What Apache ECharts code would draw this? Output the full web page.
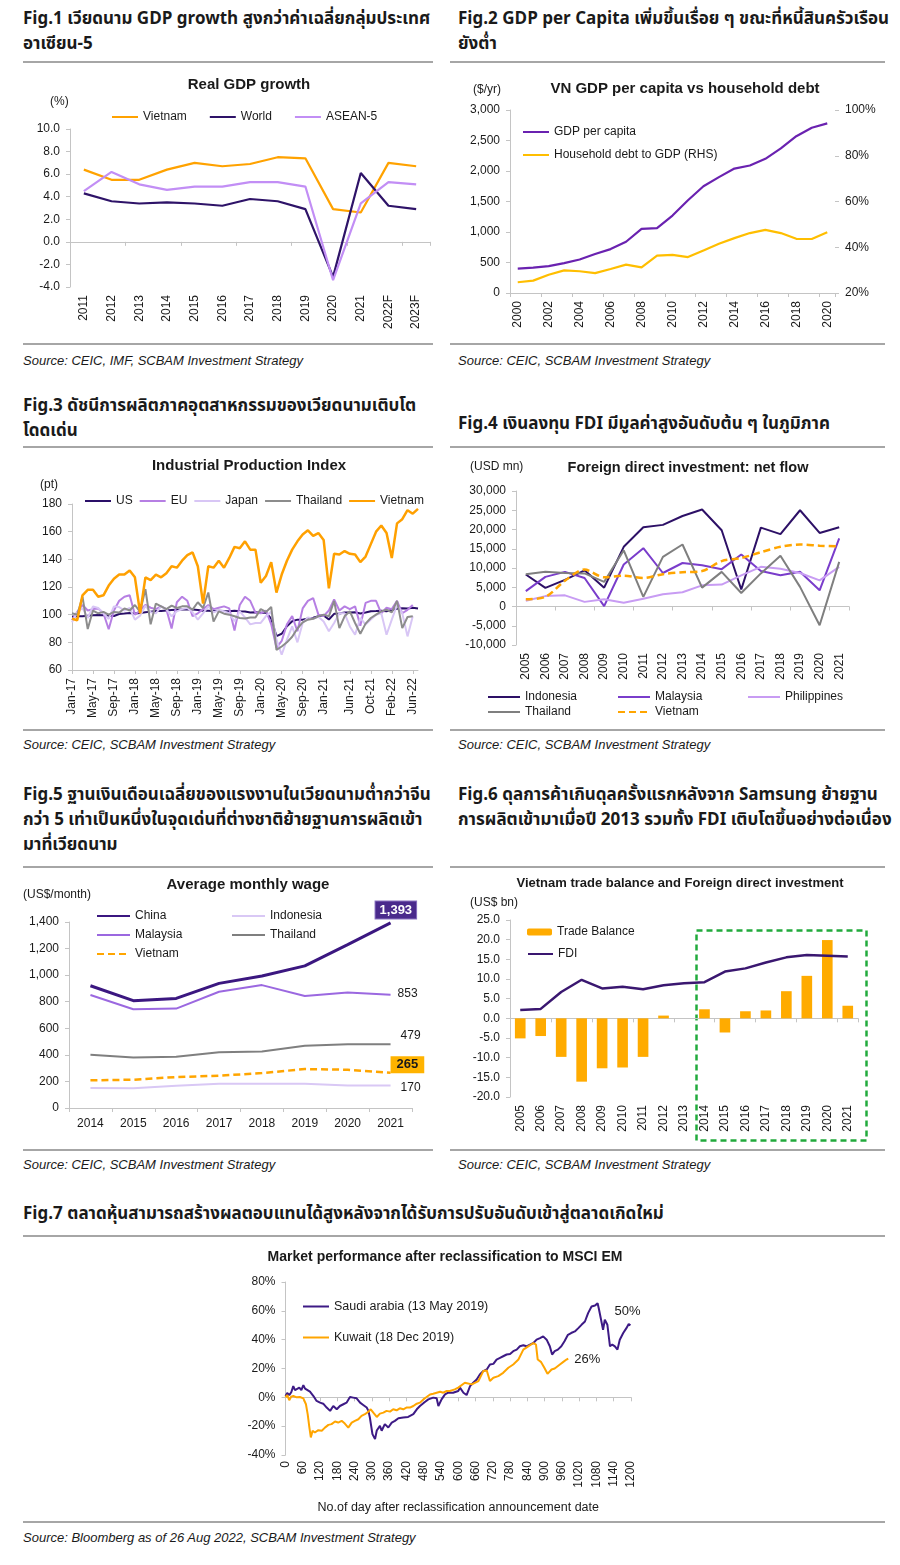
<!DOCTYPE html>
<html><head><meta charset="utf-8">
<script src="https://cdn.jsdelivr.net/npm/echarts@6/dist/echarts.min.js"></script>
<style>
body{margin:0;width:900px;height:1565px;background:#fff;position:relative;overflow:hidden;font-family:'Liberation Sans',Arial,sans-serif}
.h{position:absolute;font-weight:bold;font-size:17px;line-height:25px;color:#1a1a1a;white-space:nowrap;font-family:'Noto Sans Thai','Noto Sans','Liberation Sans',sans-serif}
.sep{position:absolute;height:0;border-top:2px solid #a6a6a6}
.src{position:absolute;font-style:italic;font-size:13px;line-height:16px;color:#1a1a1a;white-space:nowrap}
.c{position:absolute}
</style></head><body>
<div class="h" style="left:23px;top:7px">Fig.1 เวียดนาม GDP growth สูงกว่าค่าเฉลี่ยกลุ่มประเทศ<br>อาเซียน-5</div>
<div class="h" style="left:458px;top:7px">Fig.2 GDP per Capita เพิ่มขึ้นเรื่อย ๆ ขณะที่หนี้สินครัวเรือน<br>ยังต่ำ</div>
<div class="sep" style="left:23px;top:61px;width:410px"></div>
<div class="sep" style="left:450px;top:61px;width:435px"></div>
<div class="c" id="f1" style="left:0;top:65px;width:450px;height:275px"></div>
<div class="c" id="f2" style="left:450px;top:65px;width:450px;height:275px"></div>
<div class="sep" style="left:23px;top:343px;width:410px"></div>
<div class="sep" style="left:450px;top:343px;width:435px"></div>
<div class="src" style="left:23px;top:353px">Source: CEIC, IMF, SCBAM Investment Strategy</div>
<div class="src" style="left:458px;top:353px">Source: CEIC, SCBAM Investment Strategy</div>

<div class="h" style="left:23px;top:394px">Fig.3 ดัชนีการผลิตภาคอุตสาหกรรมของเวียดนามเติบโต<br>โดดเด่น</div>
<div class="h" style="left:458px;top:412px">Fig.4 เงินลงทุน FDI มีมูลค่าสูงอันดับต้น ๆ ในภูมิภาค</div>
<div class="sep" style="left:23px;top:446px;width:410px"></div>
<div class="sep" style="left:450px;top:446px;width:435px"></div>
<div class="c" id="f3" style="left:0;top:447px;width:450px;height:282px"></div>
<div class="c" id="f4" style="left:450px;top:447px;width:450px;height:282px"></div>
<div class="sep" style="left:23px;top:729px;width:410px"></div>
<div class="sep" style="left:450px;top:729px;width:435px"></div>
<div class="src" style="left:23px;top:737px">Source: CEIC, SCBAM Investment Strategy</div>
<div class="src" style="left:458px;top:737px">Source: CEIC, SCBAM Investment Strategy</div>

<div class="h" style="left:23px;top:783px">Fig.5 ฐานเงินเดือนเฉลี่ยของแรงงานในเวียดนามต่ำกว่าจีน<br>กว่า 5 เท่าเป็นหนึ่งในจุดเด่นที่ต่างชาติย้ายฐานการผลิตเข้า<br>มาที่เวียดนาม</div>
<div class="h" style="left:458px;top:783px">Fig.6 ดุลการค้าเกินดุลครั้งแรกหลังจาก Samsung ย้ายฐาน<br>การผลิตเข้ามาเมื่อปี 2013 รวมทั้ง FDI เติบโตขึ้นอย่างต่อเนื่อง</div>
<div class="sep" style="left:23px;top:866px;width:410px"></div>
<div class="sep" style="left:450px;top:866px;width:435px"></div>
<div class="c" id="f5" style="left:0;top:868px;width:450px;height:280px"></div>
<div class="c" id="f6" style="left:450px;top:868px;width:450px;height:280px"></div>
<div class="sep" style="left:23px;top:1149px;width:410px"></div>
<div class="sep" style="left:450px;top:1149px;width:435px"></div>
<div class="src" style="left:23px;top:1157px">Source: CEIC, SCBAM Investment Strategy</div>
<div class="src" style="left:458px;top:1157px">Source: CEIC, SCBAM Investment Strategy</div>

<div class="h" style="left:23px;top:1202px">Fig.7 ตลาดหุ้นสามารถสร้างผลตอบแทนได้สูงหลังจากได้รับการปรับอันดับเข้าสู่ตลาดเกิดใหม่</div>
<div class="sep" style="left:23px;top:1235px;width:862px"></div>
<div class="c" id="f7" style="left:0;top:1237px;width:900px;height:282px"></div>
<div class="sep" style="left:23px;top:1521px;width:862px"></div>
<div class="src" style="left:23px;top:1530px">Source: Bloomberg as of 26 Aug 2022, SCBAM Investment Strategy</div>

<script>
// ---------- DATA ----------
const fig1Years = ['2011','2012','2013','2014','2015','2016','2017','2018','2019','2020','2021','2022F','2023F'];
const fig1Vietnam = [6.4,5.5,5.5,6.4,7.0,6.7,6.9,7.5,7.4,2.9,2.6,7.0,6.7];
const fig1World = [4.3,3.6,3.4,3.5,3.4,3.2,3.8,3.6,2.9,-3.1,6.1,3.2,2.9];
const fig1Asean = [4.5,6.2,5.1,4.6,4.9,4.9,5.3,5.3,4.9,-3.4,3.4,5.3,5.1];

const fig2Years = ['2000','2001','2002','2003','2004','2005','2006','2007','2008','2009','2010','2011','2012','2013','2014','2015','2016','2017','2018','2019','2020'];
const fig2GdpPerCapita = [400,415,440,490,550,640,720,840,1050,1065,1270,1520,1750,1900,2040,2090,2200,2370,2570,2710,2780];
const fig2HouseholdDebt = [24.7,25.4,28,29.9,29.5,28.7,30.5,32.4,31.2,36.3,36.7,35.7,38.6,41.5,44,46.2,47.6,46.2,43.7,43.6,46.6];

const fig3Months = [
 'Jan-17','Feb-17','Mar-17','Apr-17','May-17','Jun-17','Jul-17','Aug-17','Sep-17','Oct-17','Nov-17','Dec-17',
 'Jan-18','Feb-18','Mar-18','Apr-18','May-18','Jun-18','Jul-18','Aug-18','Sep-18','Oct-18','Nov-18','Dec-18',
 'Jan-19','Feb-19','Mar-19','Apr-19','May-19','Jun-19','Jul-19','Aug-19','Sep-19','Oct-19','Nov-19','Dec-19',
 'Jan-20','Feb-20','Mar-20','Apr-20','May-20','Jun-20','Jul-20','Aug-20','Sep-20','Oct-20','Nov-20','Dec-20',
 'Jan-21','Feb-21','Mar-21','Apr-21','May-21','Jun-21','Jul-21','Aug-21','Sep-21','Oct-21','Nov-21','Dec-21',
 'Jan-22','Feb-22','Mar-22','Apr-22','May-22','Jun-22','Jul-22'];
const fig3Ticks = ['Jan-17','May-17','Sep-17','Jan-18','May-18','Sep-18','Jan-19','May-19','Sep-19','Jan-20','May-20','Sep-20','Jan-21','Jun-21','Oct-21','Feb-22','Jun-22'];
const fig3US = [98.5,98.8,98.8,99.2,99.5,99.8,99.6,99.2,99.0,100.5,100.8,101.2, 100.9,101.2,101.8,102.2,102.6,102.7,103.0,103.3,103.6,103.7,103.7,103.8, 103.3,102.8,102.8,102.6,102.8,102.6,102.5,102.8,102.5,102.3,101.6,101.8, 101.4,101.5,97.1,84.5,86.2,91.6,95.3,96.4,96.4,97.3,97.8,98.8, 99.5,96.5,100.6,100.9,101.5,101.6,101.8,100.8,101.5,102.5,102.6,102.8, 102.5,103.3,104.3,104.6,104.5,105.0,104.5];
const fig3EU = [96,102,107,103,104,104.5,101,89.5,103,110,113,114, 100,103,107,105,104,106,104,90,109,113,110,99, 101,104,107,104,105,106,104.5,88.5,107,113,110,101.5, 101,103,93,76,81,93,99,88,104.5,110,112,100, 99,103,111,103,106,104,106,92,108.5,110,110,101, 105,104,110,101,103.5,107,null];
const fig3Japan = [94.4,101.7,104.8,97.6,106,104.8,101,96.9,106,105.5,103,104.8, 96.4,99.3,106.5,101.7,101,106,104,98.8,102.4,104,104.8,101.7, 96.4,101,106,101.7,103,102.4,101,95.2,102.4,98,93,94, 94,99,102,82,71,82,91.5,80,94,98,97,98.5, 95,88,94,101,101,91.5,85.5,97.6,92.8,96.4,100,101, 85.5,96.4,107,101,84.3,98.8,null];
const fig3Thailand = [101,100,113,89.6,103,101,102,100,102,101.5,104.5,103, 107,102,118.5,93,108,106,104,106.5,104.8,106,106,103.6, 109,104.8,116,95,102.4,100.7,100,98.8,97.6,97.2,98,98, 104,102,105.6,74.6,77,80,84,90,94.4,96.4,97,98.8, 100,98.8,110,90.3,98.8,102.4,94,86.2,93.5,97.6,100,102.4, 103.6,101.7,110,90.3,98.3,98.8,null];
const fig3Vietnam = [97,96,114,118,118,113,114,121,126,129,129,132, 127,101,127,125,129,127,130,135,134,139,143,145, 135,108,135,134,139,134,141,149,148,153,147,147, 123,128,138,116,129,139,147,153,158,161,157,159, 154,119,144,143.5,146,144,143.5,138,142,151,160,164.5, 159,141,166,169,175.5,173,176.5];

const fig4Years = ['2005','2006','2007','2008','2009','2010','2011','2012','2013','2014','2015','2016','2017','2018','2019','2020','2021'];
const fig4Indonesia = [8300,4850,6900,9400,4900,15500,20600,21200,23500,25200,19800,4400,20500,18800,25000,19100,20600];
const fig4Malaysia = [4000,7700,9000,7400,100,10900,15150,8700,11300,10700,9700,13500,9200,8100,9000,4200,17700];
const fig4Philippines = [1500,2700,2900,1200,1900,1000,2000,3200,3700,5500,5700,8100,10300,9800,8700,6800,10300];
const fig4Thailand = [8400,9000,8700,8600,6400,14600,2500,12900,16100,4900,9000,3500,8600,13200,5100,-4850,11600];
const fig4Vietnam = [1900,2500,6700,9600,7600,8000,7400,8400,8900,9200,11800,12600,14100,15500,16100,15800,15600];

const fig5Years = ['2014','2015','2016','2017','2018','2019','2020','2021'];
const fig5China = [920,808,825,938,993,1070,1230,1393];
const fig5Malaysia = [850,743,748,875,925,843,870,853];
const fig5Thailand = [400,380,385,420,425,468,480,479];
const fig5Vietnam = [208,213,233,243,263,293,288,265];
const fig5Indonesia = [150,148,168,183,183,183,170,170];
const fig5EndLabels = {China:'1,393', Malaysia:'853', Thailand:'479', Vietnam:'265', Indonesia:'170'};

const fig6Years = ['2005','2006','2007','2008','2009','2010','2011','2012','2013','2014','2015','2016','2017','2018','2019','2020','2021'];
const fig6TradeBalance = [-5.1,-4.5,-9.8,-16.1,-12.7,-12.5,-9.8,0.7,0,2.3,-3.6,1.8,2.0,6.9,10.8,19.9,3.2];
const fig6FDI = [2.1,2.4,6.7,9.8,7.6,8.0,7.4,8.4,8.9,9.2,11.9,12.7,14.2,15.5,16.1,15.9,15.7];

const fig7Saudi = [[0,1],[6,3],[13,1.5],[20,3.5],[27,7.8],[33,5],[39,5.5],[48,6.7],[55,5],[62,8.5],[68,6],[73,4.8],[85,3.9],[97,0.9],[108,-2.5],[120,-3.7],[131,-4.4],[143,-7.1],[155,-9.4],[166,-6],[178,-8.3],[189,-6],[201,-4.8],[212,-3.7],[224,0.2],[235,-0.2],[247,-0.7],[259,-3.7],[270,-5.3],[282,-7.1],[288,-9.4],[293,-14],[302,-25.5],[311,-29],[317,-23],[328,-19.8],[334,-23.2],[345,-18.6],[357,-20.9],[369,-17.5],[380,-16.3],[392,-14.5],[409,-14],[426,-13.6],[444,-11.7],[456,-8.3],[467,-6],[484,-3.2],[496,-1.4],[513,-0.2],[525,-0.7],[531,-6],[542,-1.4],[554,2],[565,3.2],[582,3.2],[600,4.4],[606,6.7],[618,3.2],[629,1.6],[641,7.8],[652,10.1],[664,12.4],[675,15.9],[687,18.2],[699,19.3],[710,22.8],[722,23.2],[733,26.2],[745,27.4],[756,28.5],[768,29.7],[780,30.1],[791,32],[803,33.1],[814,35.4],[826,36.1],[837,35.4],[849,36.6],[861,37.7],[872,40],[884,41.1],[895,42.3],[907,40],[918,35.4],[926,29.7],[935,32],[946,33.1],[958,35.4],[969,38.9],[981,43.4],[992,44.6],[1005,45.7],[1017,48],[1028,50.3],[1040,52.6],[1051,58.4],[1063,63],[1075,63.7],[1084,65.3],[1088,61.8],[1095,54.9],[1103,46.9],[1109,53.8],[1118,50.3],[1127,35.4],[1135,36.6],[1144,35.4],[1153,33.1],[1161,40],[1173,44.6],[1184,48],[1192,50.8],[1198,49.9]];
const fig7Kuwait = [[0,0],[6,1.6],[13,-2],[20,0.5],[27,0.9],[39,0],[50,0.2],[62,-0.7],[71,-4.8],[77,-11.7],[83,-21],[88,-27.8],[94,-23.2],[102,-24.4],[114,-22.8],[126,-23.2],[137,-21],[149,-19.1],[160,-18.6],[172,-16.8],[183,-17.5],[195,-16.3],[206,-18.2],[218,-21],[230,-17.5],[241,-16.3],[253,-15.2],[264,-12.9],[276,-11.7],[288,-9.9],[296,-8.3],[305,-10.6],[317,-13.6],[328,-11.3],[340,-10.6],[351,-9.4],[363,-9.9],[374,-8.3],[386,-9],[397,-7.6],[409,-8.3],[420,-7.1],[432,-7.1],[444,-6],[456,-4.4],[467,-3.7],[479,-1.4],[490,0.2],[502,2],[513,2.5],[525,3.2],[537,3.9],[548,3.2],[560,4.4],[571,4.4],[588,5.5],[600,6.7],[606,6.7],[623,10.1],[647,9],[670,11.3],[687,18.2],[699,18.6],[710,11.3],[722,13.6],[739,14.7],[756,17],[774,20.5],[791,22.8],[809,26.2],[826,33.1],[843,35.4],[861,37.7],[870,36.6],[876,26.2],[887,24.6],[899,20.5],[910,16.3],[924,19.3],[935,20],[953,22.8],[965,24.6],[976,26.2],[982,26.9]];
const fig7EndLabels = ['50%','26%'];

// ---------- HELPERS ----------
const FONT = "'Liberation Sans', Arial, sans-serif";
const TXT = '#1a1a1a';
const AX = '#c4c4c4';
const comma = v => v.toLocaleString('en-US');

function init(id, opt){
  const c = echarts.init(document.getElementById(id), null, {renderer:'canvas'});
  opt.animation = false;
  opt.textStyle = {fontFamily: FONT, color: TXT};
  c.setOption(opt);
}
function ttl(text, left, top, size){
  return {text, left, top, textAlign:'center', textStyle:{fontFamily:FONT, fontSize:size, fontWeight:'bold', color:TXT}};
}
function txt(text, left, top, size){
  return {type:'text', left, top, style:{text, font:(size||12)+'px '+FONT, fill:TXT}};
}
function lgd(data, left, top, extra){
  return Object.assign({data, left, top, itemWidth:26, itemHeight:10, itemGap:22, padding:0,
    itemStyle:{opacity:0},
    textStyle:{fontSize:12, color:TXT, fontFamily:FONT}}, extra||{});
}
function yVal(extra, labelFmt){
  return Object.assign({type:'value', axisLine:{show:true, lineStyle:{color:AX}},
    axisTick:{show:true, length:4, lineStyle:{color:AX}}, splitLine:{show:false},
    axisLabel:{fontSize:12, color:TXT, margin:10, formatter:labelFmt}}, extra);
}
function xLabels(data, extra, labelExtra){
  return Object.assign({type:'category', data, axisLine:{show:false, onZero:false}, axisTick:{show:false},
    axisLabel:Object.assign({rotate:90, interval:0, fontSize:12, color:TXT, margin:8}, labelExtra||{})}, extra||{});
}
function xZero(data){
  return {type:'category', data, position:'bottom', axisLine:{show:true, onZero:true, lineStyle:{color:AX}},
    axisTick:{show:true, length:4, lineStyle:{color:AX}}, axisLabel:{show:false}};
}
function line(name, data, color, width, extra){
  return Object.assign({name, type:'line', data, symbol:'none', color,
    lineStyle:{width:width||2, color}, emphasis:{disabled:true}}, extra||{});
}

// ---------- FIG 1 ----------
init('f1', {
  title: ttl('Real GDP growth', 244, 7, 15),
  graphic: [txt('(%)', 50, 31)],
  legend: lgd(['Vietnam','World','ASEAN-5'], 111, 46),
  grid: {left:70, right:20, top:64, height:158},
  xAxis: [xLabels(fig1Years), xZero(fig1Years)],
  yAxis: yVal({min:-4, max:10, interval:2}, v => v.toFixed(1)),
  series: [
    line('Vietnam', fig1Vietnam, '#FFA200', 2.2),
    line('World', fig1World, '#2E1368', 2.2),
    line('ASEAN-5', fig1Asean, '#C28EF5', 2.2)
  ]
});

// ---------- FIG 2 ----------
init('f2', {
  title: ttl('VN GDP per capita vs household debt', 230, 11, 15),
  graphic: [txt('($/yr)', 23, 19)],
  legend: lgd(['GDP per capita','Household debt to GDP (RHS)'], 72, 61, {orient:'vertical', itemGap:11}),
  grid: {left:60, right:65, top:45, height:183},
  xAxis: xLabels(fig2Years, {axisLine:{show:true, lineStyle:{color:AX}}, axisTick:{show:true, interval:1, length:4, lineStyle:{color:AX}}}, {interval:1}),
  yAxis: [
    yVal({min:0, max:3000, interval:500}, comma),
    yVal({min:20, max:100, interval:20, position:'right', axisLine:{show:false}}, v => v + '%')
  ],
  series: [
    line('GDP per capita', fig2GdpPerCapita, '#6A22B0', 2.2),
    line('Household debt to GDP (RHS)', fig2HouseholdDebt, '#FFBE00', 2.2, {yAxisIndex:1})
  ]
});

// ---------- FIG 3 ----------
const fig3TickFn = (i, v) => fig3Ticks.indexOf(fig3Months[i]) >= 0;
init('f3', {
  title: ttl('Industrial Production Index', 244, 6, 15),
  graphic: [txt('(pt)', 40, 32)],
  legend: lgd(['US','EU','Japan','Thailand','Vietnam'], 84, 48, {itemGap:6}),
  grid: {left:72, right:32, top:57, height:166},
  xAxis: {type:'category', data:fig3Months, boundaryGap:false,
    axisLine:{show:true, lineStyle:{color:AX}}, axisTick:{show:true, interval:fig3TickFn, length:4, lineStyle:{color:AX}},
    axisLabel:{rotate:90, interval:fig3TickFn, fontSize:12, color:TXT, margin:8}},
  yAxis: yVal({min:60, max:180, interval:20}),
  series: [
    line('US', fig3US, '#2A0F68', 2),
    line('EU', fig3EU, '#B67FE3', 2),
    line('Japan', fig3Japan, '#D8C6F5', 2),
    line('Thailand', fig3Thailand, '#8C8C8C', 2),
    line('Vietnam', fig3Vietnam, '#FFA000', 2.5)
  ]
});

// ---------- FIG 4 ----------
const l4 = {itemWidth:32};
init('f4', {
  title: ttl('Foreign direct investment: net flow', 233, 8, 14.5),
  graphic: [txt('(USD mn)', 20, 14)],
  legend: [
    lgd(['Indonesia'], 37, 244, l4), lgd(['Malaysia'], 167, 244, l4), lgd(['Philippines'], 297, 244, l4),
    lgd(['Thailand'], 37, 259, l4), lgd(['Vietnam'], 167, 259, l4)
  ],
  grid: {left:66, right:51, top:44, height:154},
  xAxis: [xLabels(fig4Years), xZero(fig4Years)],
  yAxis: yVal({min:-10000, max:30000, interval:5000}, comma),
  series: [
    line('Indonesia', fig4Indonesia, '#2D1066', 2),
    line('Malaysia', fig4Malaysia, '#7A3DCB', 2),
    line('Philippines', fig4Philippines, '#C89CF3', 2),
    line('Thailand', fig4Thailand, '#7F7F7F', 2),
    line('Vietnam', fig4Vietnam, '#FFA500', 2.5, {smooth:0.3, lineStyle:{width:2.5, color:'#FFA500', type:[7,4]}})
  ]
});

// ---------- FIG 5 ----------
const l5 = {itemWidth:33};
function end5(text, distance, offset, extra){
  return {endLabel:Object.assign({show:true, formatter:text, distance, offset, color:TXT, fontSize:12, fontFamily:FONT}, extra||{})};
}
init('f5', {
  title: ttl('Average monthly wage', 243, 4, 15),
  graphic: [txt('(US$/month)', 23, 21)],
  legend: [
    lgd(['China'], 96, 42, l5), lgd(['Indonesia'], 231, 42, l5),
    lgd(['Malaysia'], 96, 61, l5), lgd(['Thailand'], 231, 61, l5),
    lgd(['Vietnam'], 96, 80, l5)
  ],
  grid: {left:69, right:38, top:54, height:186},
  xAxis: {type:'category', data:fig5Years, axisLine:{show:true, lineStyle:{color:AX}},
    axisTick:{show:true, length:4, lineStyle:{color:AX}}, axisLabel:{fontSize:12, color:TXT, margin:10}},
  yAxis: yVal({min:0, max:1400, interval:200}, comma),
  series: [
    line('China', fig5China, '#3B1780', 3, end5(fig5EndLabels.China, 0, [-15,-13],
      {backgroundColor:'#4A2A8C', borderColor:'#8a72c0', borderWidth:1, color:'#fff', fontWeight:'bold', fontSize:13, padding:[2,4]})),
    line('Indonesia', fig5Indonesia, '#D9C8F5', 2, end5(fig5EndLabels.Indonesia, 10, [0,2])),
    line('Malaysia', fig5Malaysia, '#9B68E0', 2, end5(fig5EndLabels.Malaysia, 7, [0,-1])),
    line('Thailand', fig5Thailand, '#7F7F7F', 2, end5(fig5EndLabels.Thailand, 10, [0,-9])),
    line('Vietnam', fig5Vietnam, '#FFA500', 2.5, Object.assign({lineStyle:{width:2.5, color:'#FFA500', type:[7,4]}},
      end5(fig5EndLabels.Vietnam, 0, [0,-8], {backgroundColor:'#FFB300', fontWeight:'bold', fontSize:13, padding:[2,6]})))
  ]
});

// ---------- FIG 6 ----------
init('f6', {
  title: ttl('Vietnam trade balance and Foreign direct investment', 225, 4, 13),
  graphic: [txt('(US$ bn)', 20, 29),
    {type:'rect', left:244, top:60, shape:{width:170, height:210}, style:{fill:'none', stroke:'#22AA3C', lineWidth:2.5, lineDash:[6,4]}}],
  legend: [
    lgd(['Trade Balance'], 77, 58, {itemWidth:25, itemHeight:7, itemStyle:{}}),
    lgd(['FDI'], 77, 80, {itemWidth:25})
  ],
  grid: {left:60, right:42, top:52, height:177},
  xAxis: [xLabels(fig6Years), xZero(fig6Years)],
  yAxis: yVal({min:-20, max:25, interval:5}, v => v.toFixed(1)),
  series: [
    {name:'Trade Balance', type:'bar', data:fig6TradeBalance, barWidth:'52%', color:'#FFAB00', itemStyle:{color:'#FFAB00'}, emphasis:{disabled:true}},
    line('FDI', fig6FDI, '#3A1770', 2.5)
  ]
});

// ---------- FIG 7 ----------
const x7 = {type:'value', min:0, max:1200, interval:60};
init('f7', {
  title: ttl('Market performance after reclassification to MSCI EM', 440, 8, 14),
  legend: lgd(['Saudi arabia (13 May 2019)','Kuwait (18 Dec 2019)'], 302, 63,
    {orient:'vertical', itemGap:18, textStyle:{fontSize:12.5, color:TXT, fontFamily:FONT}}),
  grid: {left:285.5, right:269, top:45, height:175.5},
  xAxis: [
    Object.assign({}, x7, {axisLine:{show:false, onZero:false}, axisTick:{show:false}, splitLine:{show:false},
      axisLabel:{rotate:90, fontSize:12, color:TXT, margin:6, formatter: v => String(v)},
      name:'No.of day after reclassification announcement date', nameLocation:'middle', nameGap:46,
      nameTextStyle:{fontSize:12.5, color:TXT}}),
    Object.assign({}, x7, {position:'bottom', axisLine:{show:true, onZero:true, lineStyle:{color:AX}},
      axisTick:{show:true, length:4, lineStyle:{color:AX}}, axisLabel:{show:false}, splitLine:{show:false}})
  ],
  yAxis: yVal({min:-40, max:80, interval:20}, v => v + '%'),
  series: [
    line('Saudi arabia (13 May 2019)', fig7Saudi, '#3D1A85', 2,
      {endLabel:{show:true, formatter:fig7EndLabels[0], distance:0, offset:[-16,-14], fontSize:13, color:TXT}}),
    line('Kuwait (18 Dec 2019)', fig7Kuwait, '#FFA500', 2,
      {endLabel:{show:true, formatter:fig7EndLabels[1], distance:6, offset:[0,1], fontSize:13, color:TXT}})
  ]
});
</script>
</body></html>
